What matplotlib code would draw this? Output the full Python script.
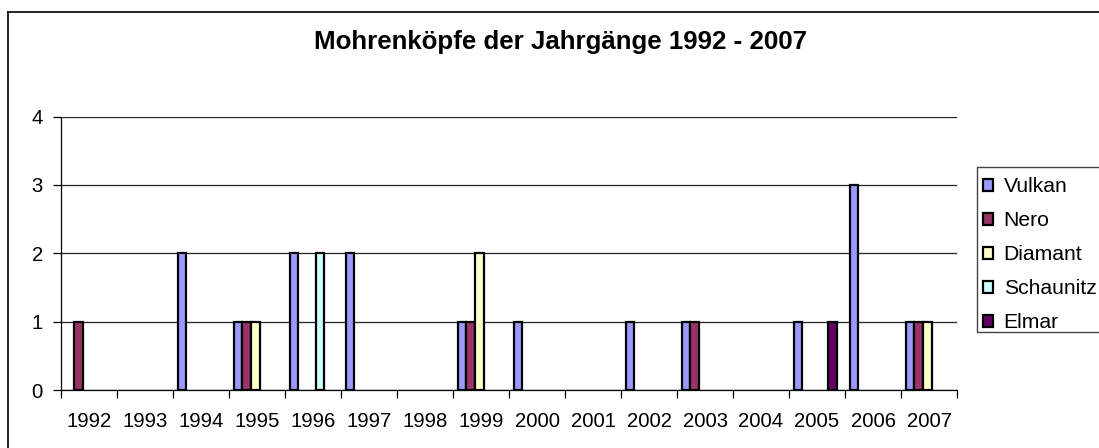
import numpy as np
import matplotlib
matplotlib.use("Agg")
import matplotlib.pyplot as plt
from matplotlib.lines import Line2D

plt.rcParams['font.family'] = ['Liberation Sans', 'DejaVu Sans']

# Daten: Jahrgänge und Anzahl Mohrenköpfe je Hund
jahre = ["1992", "1993", "1994", "1995", "1996", "1997", "1998", "1999",
         "2000", "2001", "2002", "2003", "2004", "2005", "2006", "2007"]
vulkan = [0, 0, 2, 1, 2, 2, 0, 1, 1, 0, 1, 1, 0, 1, 3, 1]
nero = [1, 0, 0, 1, 0, 0, 0, 1, 0, 0, 0, 1, 0, 0, 0, 1]
diamant = [0, 0, 0, 1, 0, 0, 0, 2, 0, 0, 0, 0, 0, 0, 0, 1]
schaunitz = [0, 0, 0, 0, 2, 0, 0, 0, 0, 0, 0, 0, 0, 0, 0, 0]
elmar = [0, 0, 0, 0, 0, 0, 0, 0, 0, 0, 0, 0, 0, 1, 0, 0]

namen = ["Vulkan", "Nero", "Diamant", "Schaunitz", "Elmar"]
farben = ["#9999FF", "#993366", "#FFFFCC", "#CCFFFF", "#660066"]
serien = [vulkan, nero, diamant, schaunitz, elmar]

W, H = 1099, 448
fig = plt.figure(figsize=(W / 100, H / 100), dpi=100)
ax = fig.add_axes([61 / W, 1 - 390 / H, (957 - 61) / W, (390 - 116.5) / H])

x = np.arange(len(jahre))
breite = 0.154
start = 0.085
for j, (werte, name, farbe) in enumerate(zip(serien, namen, farben)):
    h = np.array(werte, dtype=float)
    h[h == 0] = np.nan  # Nullwerte nicht zeichnen
    ax.bar(x + start + j * breite, h, width=breite, align='edge',
           color=farbe, edgecolor='black', linewidth=1.6, label=name, zorder=3)

ax.set_xlim(0, len(jahre))
ax.set_ylim(0, 4)
ax.set_yticks([0, 1, 2, 3, 4])
ax.yaxis.grid(True, color='#222222', linewidth=0.9, zorder=0)
ax.set_xticks(np.arange(len(jahre) + 1))
ax.set_xticklabels([])
ax.set_xticks(x + 0.5, minor=True)
ax.set_xticklabels(jahre, minor=True)
ax.tick_params(axis='x', which='major', length=6, width=0.9, direction='out')
ax.tick_params(axis='x', which='minor', length=0, pad=16, labelsize=14.6)
ax.tick_params(axis='y', length=6, width=0.9, pad=7, labelsize=14.6)
for s in ['top', 'right']:
    ax.spines[s].set_visible(False)
for s in ['left', 'bottom']:
    ax.spines[s].set_linewidth(0.9)

fig.text(561 / W, 1 - 42 / H, "Mohrenköpfe der Jahrgänge 1992 - 2007",
         ha='center', va='center', fontsize=18.6, fontweight='bold')

# Rahmen des Diagrammbereichs
fig.add_artist(Line2D([8 / W, 8 / W], [1 - 12 / H, 0], color='black', linewidth=1.2))
fig.add_artist(Line2D([8 / W, 1], [1 - 12 / H, 1 - 12 / H], color='black', linewidth=1.2))

# Legende mit Rahmen (rechts abgeschnitten)
lx, ly0, ly1 = 977 / W, 1 - 167 / H, 1 - 332 / H
fig.add_artist(Line2D([1, lx, lx, 1], [ly0, ly0, ly1, ly1],
                      color='#444444', linewidth=1.0))
leg = fig.legend(loc='upper left', bbox_to_anchor=(lx, 1 - 171 / H),
                 frameon=False, fontsize=15.2, handlelength=0.48,
                 handleheight=0.48, handletextpad=0.48, labelspacing=0.71,
                 borderpad=0.3, borderaxespad=0)

fig.savefig("out.png", dpi=100)
